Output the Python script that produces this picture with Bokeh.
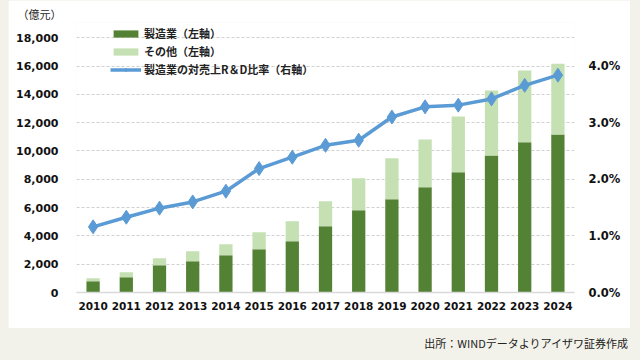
from bokeh.plotting import figure
from bokeh.models import (FactorRange, Range1d, LinearAxis, FixedTicker, NumeralTickFormatter,
                          Legend, LegendItem, ColumnDataSource, Div)
from bokeh.layouts import column
from bokeh.embed import file_html
from bokeh.resources import INLINE

# ---- data ----
years = ["2010", "2011", "2012", "2013", "2014", "2015", "2016", "2017",
         "2018", "2019", "2020", "2021", "2022", "2023", "2024"]
manufacturing = [800, 1080, 1930, 2210, 2630, 3050, 3620, 4680,
                 5810, 6590, 7430, 8490, 9690, 10610, 11170]
other = [210, 350, 490, 700, 780, 1210, 1410, 1760,
         2260, 2890, 3390, 3950, 4590, 5080, 4990]
rd_ratio = [0.0116, 0.0133, 0.0149, 0.0160, 0.0179, 0.0219, 0.0239, 0.0260,
            0.0269, 0.0310, 0.0328, 0.0331, 0.0342, 0.0366, 0.0384]
left_ticks = [0, 2000, 4000, 6000, 8000, 10000, 12000, 14000, 16000, 18000]
right_ticks = [0.0, 0.01, 0.02, 0.03, 0.04]

legend_labels = ["製造業（左軸）", "その他（左軸）", "製造業の対売上R＆D比率（右軸）"]
unit_label = "（億元）"
source_note = "出所：WINDデータよりアイザワ証券作成"

DARK = "#548235"
LIGHT = "#C5E0B3"
BLUE = "#5B9BD5"
BEIGE = "#F3F2EA"
NUM_FONT = "DejaVu Sans"
JP_FONT = "Noto Sans CJK JP"

# left axis tops out a little above 18,000 so the legend fits inside the frame;
# the right axis keeps the same 18,000 : 4.5% proportion
Y_TOP = 19080
PCT_TOP = 0.045 * Y_TOP / 18000

src = ColumnDataSource(dict(year=years, mfg=manufacturing, oth=other, ratio=rd_ratio))

p = figure(width=622, height=328, x_range=FactorRange(*years, range_padding=0),
           y_range=Range1d(0, Y_TOP), output_backend="svg", toolbar_location=None,
           min_border_left=68, min_border_right=56, min_border_top=22, min_border_bottom=36,
           margin=(0, 10, 0, 8))
p.extra_y_ranges = {"pct": Range1d(0, PCT_TOP)}
p.background_fill_color = "white"
p.border_fill_color = "white"
p.outline_line_color = None

bars = p.vbar_stack(["mfg", "oth"], x="year", width=0.4, source=src,
                    color=[DARK, LIGHT], line_color=None)
ln = p.line(x="year", y="ratio", source=src, y_range_name="pct",
            line_color=BLUE, line_width=3.5)
pts = p.scatter(x="year", y="ratio", source=src, y_range_name="pct",
                marker="diamond", size=14, fill_color=BLUE, line_color=BLUE)

# unit label as left-aligned title
p.title.text = unit_label
p.title.align = "left"
p.title.offset = -59
p.title.standoff = 2
p.title.text_font = JP_FONT
p.title.text_font_size = "11px"
p.title.text_font_style = "normal"
p.title.text_color = "#222222"

# left axis
la = p.yaxis[0]
la.ticker = FixedTicker(ticks=left_ticks)
la.formatter = NumeralTickFormatter(format="0,0")
la.axis_line_color = None
la.major_tick_line_color = None
la.minor_tick_line_color = None
la.major_tick_out = 0
la.major_label_standoff = 18
la.major_label_text_font = NUM_FONT
la.major_label_text_font_style = "bold"
la.major_label_text_font_size = "11px"
la.major_label_text_color = "#111111"

# right axis
ra = LinearAxis(y_range_name="pct", ticker=FixedTicker(ticks=right_ticks),
                formatter=NumeralTickFormatter(format="0.0%"))
ra.axis_line_color = None
ra.major_tick_line_color = None
ra.minor_tick_line_color = None
ra.major_tick_out = 0
ra.major_label_standoff = 14
ra.major_label_text_font = NUM_FONT
ra.major_label_text_font_style = "bold"
ra.major_label_text_font_size = "11.5px"
ra.major_label_text_color = "#111111"
p.add_layout(ra, "right")

# bottom axis
xa = p.xaxis[0]
xa.axis_line_color = "#D9D9D9"
xa.axis_line_width = 1.5
xa.major_tick_line_color = None
xa.minor_tick_line_color = None
xa.major_tick_out = 0
xa.major_label_standoff = 9
xa.major_label_text_font = NUM_FONT
xa.major_label_text_font_style = "bold"
xa.major_label_text_font_size = "10.5px"
xa.major_label_text_color = "#111111"

p.xgrid.grid_line_color = None
p.ygrid.ticker = FixedTicker(ticks=left_ticks)
p.ygrid.grid_line_color = "#D0D0D0"
p.ygrid.grid_line_dash = "3 2"
p.ygrid.grid_line_width = 1

legend = Legend(items=[LegendItem(label=legend_labels[0], renderers=[bars[0]]),
                       LegendItem(label=legend_labels[1], renderers=[bars[1]]),
                       LegendItem(label=legend_labels[2], renderers=[ln, pts])],
                location=(34, 215), orientation="vertical",
                glyph_width=31, glyph_height=9, label_height=14, label_standoff=3,
                spacing=2, padding=0, margin=0,
                border_line_color=None, background_fill_alpha=0,
                label_text_font=JP_FONT, label_text_font_size="11px",
                label_text_font_style="bold", label_text_color="#222222")
p.add_layout(legend, "center")

# source note strip
note = Div(text=source_note, width=628, height=32, margin=(0, 12, 0, 0),
           styles={"background-color": BEIGE, "font-family": JP_FONT,
                   "font-size": "11px", "color": "#222222", "text-align": "right",
                   "line-height": "30px", "white-space": "nowrap"})

layout = column(p, note, spacing=0, styles={"background-color": BEIGE})
open("out.html", "w").write(file_html(layout, INLINE))
